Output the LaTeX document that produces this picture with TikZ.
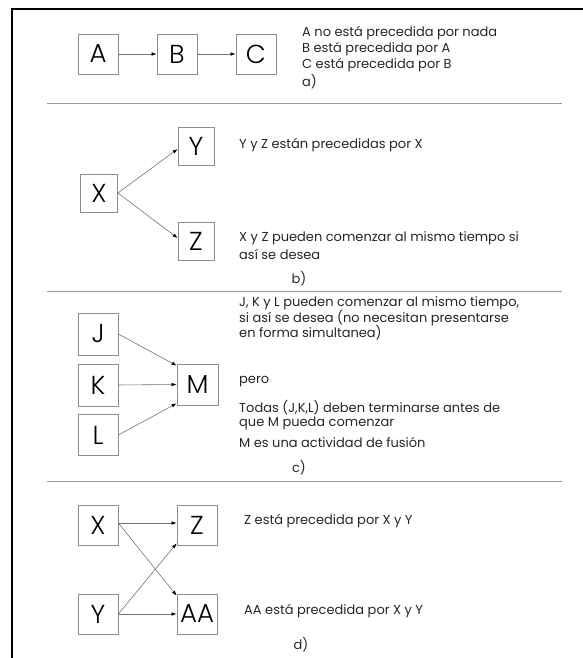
\documentclass[tikz,border=0pt]{standalone}
\usepackage{fontspec}
\setmainfont{Poppins}
\IfFontExistsTF{Poppins Light}{\newfontfamily\boxfont{Poppins Light}}{\newfontfamily\boxfont{Poppins}}
\usetikzlibrary{arrows.meta,calc}
\begin{document}
\begin{tikzpicture}[x=1pt,y=-1pt,
  box/.style={draw=black!45,line width=0.8pt,inner sep=0pt,font=\boxfont\fontsize{26}{26}\selectfont},
  txt/.style={anchor=west,inner sep=0pt,font=\fontsize{13}{15}\selectfont,text=black!85},
  lbl/.style={inner sep=0pt,font=\fontsize{13}{15}\selectfont,text=black!85},
  arr/.style={draw=black!55,line width=0.6pt,-{Latex[length=5pt,width=3.6pt,color=black]}},
  sep/.style={draw=black!40,line width=1pt},
  frame/.style={draw=black,line width=2.2pt}]
\useasboundingbox (0,0) rectangle (583,658);
% frame
\coordinate (f1) at (12,9);
\coordinate (f2) at (583,9);
\coordinate (f3) at (12,658);
\draw[frame] (f2) -- (f1) -- (f3);
% separators
\coordinate (s1a) at (47,104); \coordinate (s1b) at (562,104);
\coordinate (s2a) at (47,291); \coordinate (s2b) at (562,291);
\coordinate (s3a) at (47,481); \coordinate (s3b) at (562,481);
\draw[sep] (s1a) -- (s1b);
\draw[sep] (s2a) -- (s2b);
\draw[sep] (s3a) -- (s3b);
% ---- a)
\node[box,minimum width=40pt,minimum height=40pt] (A) at (98,54) {A};
\node[box,minimum width=40pt,minimum height=40pt] (B) at (177,54) {B};
\node[box,minimum width=40pt,minimum height=40pt] (C) at (256,54) {C};
\draw[arr] (A) -- (B);
\draw[arr] (B) -- (C);
\node[txt] (ta1) at (302,33) {A no está precedida por nada};
\node[txt] (ta2) at (302,49) {B está precedida por A};
\node[txt] (ta3) at (302,65) {C está precedida por B};
\node[txt] (ta4) at (302,82) {a)};
% ---- b)
\node[box,minimum width=37pt,minimum height=38pt] (bX) at (99,193) {X};
\node[box,minimum width=36pt,minimum height=38pt] (bY) at (196,146) {Y};
\node[box,minimum width=36pt,minimum height=38pt] (bZ) at (196,241) {Z};
\draw[arr] (bX.east) -- ($(bY.west)+(0,3)$);
\draw[arr] (bX.east) -- ($(bZ.west)+(0,-3)$);
\node[txt] (tb1) at (239,145) {Y y Z están precedidas por X};
\node[txt] (tb2) at (239,238) {X y Z pueden comenzar al mismo tiempo si};
\node[txt] (tb3) at (239,254) {así se desea};
\node[lbl] (tb4) at (299,279) {b)};
% ---- c)
\node[box,minimum width=40pt,minimum height=42pt] (J) at (98,334) {J};
\node[box,minimum width=40pt,minimum height=42pt] (K) at (98,385) {K};
\node[box,minimum width=40pt,minimum height=41pt] (L) at (98,435) {L};
\node[box,minimum width=41pt,minimum height=41pt] (M) at (197.5,384.5) {M};
\draw[arr] (J.east) -- ($(M.north west)+(0,2)$);
\draw[arr] (K.east) -- (M.west);
\draw[arr] (L.east) -- ($(M.south west)+(0,-2)$);
\node[txt] (tc1) at (239,303) {J, K y L pueden comenzar al mismo tiempo,};
\node[txt] (tc2) at (239,318) {si así se desea (no necesitan presentarse};
\node[txt] (tc3) at (239,333) {en forma simultanea)};
\node[txt] (tc4) at (239,382) {pero};
\node[txt] (tc5) at (239,408) {Todas (J,K,L) deben terminarse antes de};
\node[txt] (tc6) at (239,423) {que M pueda comenzar};
\node[txt] (tc7) at (239,442) {M es una actividad de fusión};
\node[lbl] (tc8) at (299,468) {c)};
% ---- d)
\node[box,minimum width=40pt,minimum height=40pt] (dX) at (98,525) {X};
\node[box,minimum width=40pt,minimum height=40pt] (dZ) at (197,525) {Z};
\node[box,minimum width=40pt,minimum height=40pt] (dY) at (98,614) {Y};
\node[box,minimum width=40pt,minimum height=40pt] (dAA) at (197,614) {AA};
\draw[arr] ($(dX.east)+(0,-2)$) -- ($(dZ.west)+(0,-2)$);
\draw[arr] ($(dX.east)+(0,-2)$) -- ($(dAA.north west)+(0,2)$);
\draw[arr] (dY.east) -- ($(dZ.south west)+(0,-2)$);
\draw[arr] (dY.east) -- (dAA.west);
\node[txt] (td1) at (244,521) {Z está precedida por X y Y};
\node[txt] (td2) at (244,611) {AA está precedida por X y Y};
\node[lbl] (td3) at (301,645) {d)};
\end{tikzpicture}
\end{document}
